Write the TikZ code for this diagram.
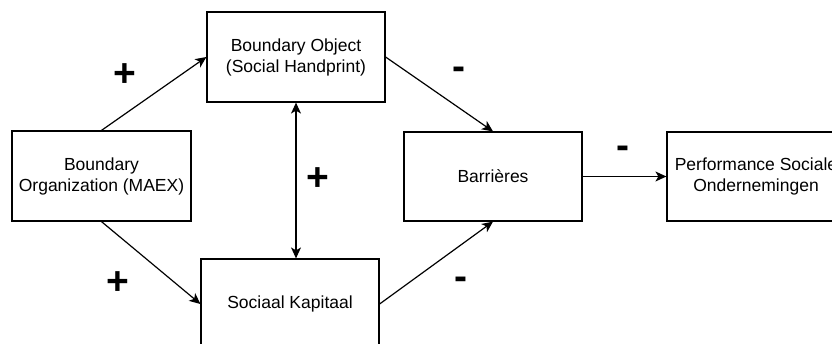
\documentclass[tikz,border=0pt]{standalone}
\usepackage{fontspec}
\setmainfont{Liberation Sans}
\usetikzlibrary{arrows.meta}
\begin{document}
\begin{tikzpicture}[x=1pt,y=-1pt,
  box/.style={draw, line width=1.2pt, minimum width=178pt, minimum height=90pt,
    align=center, inner sep=0pt, font=\fontsize{17.5}{21}\selectfont},
  link/.style={line width=1.2pt, -{Stealth[length=11pt,width=10pt,inset=3pt]}},
  biglink/.style={line width=1.2pt, {Stealth[length=11pt,width=10pt,inset=3pt]}-{Stealth[length=11pt,width=10pt,inset=3pt]}},
  sign/.style={inner sep=0pt, font=\fontsize{39}{39}\selectfont\bfseries}]
\useasboundingbox (0,0) rectangle (832,344);
\clip (0,0) rectangle (832,344);
% boxes
\node[box, minimum width=179pt] (org) at (101.5,176) {Boundary\\Organization (MAEX)};
\node[box] (obj) at (296,57) {Boundary Object\\(Social Handprint)};
\node[box] (kap) at (290,304) {Sociaal Kapitaal};
\node[box, minimum height=89pt] (bar) at (493,176.5) {Barrières};
\node[box, minimum height=89pt] (perf) at (756,176.5) {Performance Sociale\\Ondernemingen};
% connectors
\draw[link] (org.north) -- (obj.west);
\draw[link] (org.south) -- (kap.west);
\draw[biglink] (obj.south) -- (obj.south |- kap.north);
\draw[link] (obj.east) -- (bar.north);
\draw[link] (kap.east) -- (bar.south);
\draw[link] (bar.east) -- (perf.west);
% signs
\node[sign] (p1) at (125,75) {+};
\node[sign] (p2) at (118,283) {+};
\node[sign] (p3) at (318,179) {+};
\node[sign] (m1) at (459,73) {-};
\node[sign] (m2) at (461,283) {-};
\node[sign] (m3) at (623,152) {-};
\end{tikzpicture}
\end{document}
